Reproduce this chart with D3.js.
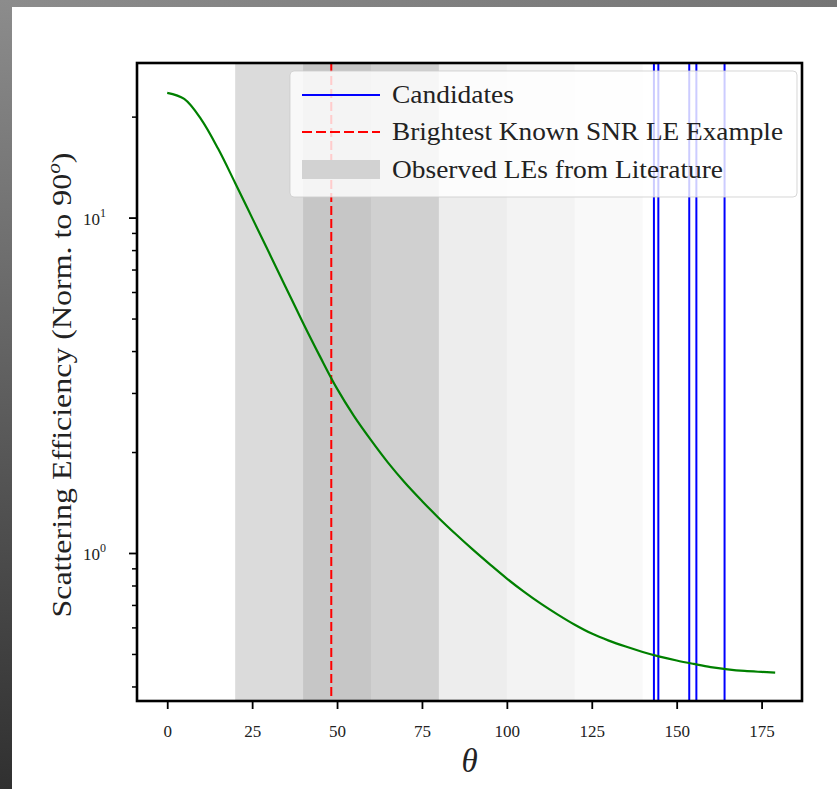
<!DOCTYPE html>
<html lang="en">
<head>
    <meta charset="UTF-8">
    <title>Scattering Efficiency</title>
    <style>
        body { margin: 0; background: #fff; }
        svg { display: block; }
        .tick text { font-family: "Liberation Serif", serif; fill: #222; }
        .lbl { font-family: "Liberation Serif", serif; fill: #222; }
    </style>
</head>
<body>
    <svg width="837" height="789"></svg>

    <script src="https://d3js.org/d3.v7.min.js"></script>
    <script>
        // scattering curve
        const thetaVals = [0, 5, 10, 15, 20, 25, 30, 35, 40, 45, 50, 55, 60, 65, 70, 75, 80, 85, 90,
            95, 100, 105, 110, 115, 120, 125, 130, 135, 140, 145, 150, 155, 160, 165, 170, 175, 179];
        const effVals = [23.55, 22.59, 19.63, 16.03, 12.68, 9.98, 7.85, 6.17, 4.85, 3.85, 3.09, 2.56, 2.17, 1.86, 1.62, 1.43, 1.27, 1.137, 1.023,
            0.925, 0.839, 0.767, 0.706, 0.655, 0.611, 0.575, 0.548, 0.526, 0.507, 0.491, 0.478, 0.467, 0.457, 0.450, 0.445, 0.442, 0.440];

        // candidate angles, brightest example, literature LE ranges
        const candidates = [143.3, 144.6, 153.7, 155.8, 164.1];
        const brightest = 48.3;
        const litSpans = [[20, 140], [20, 120], [20, 100], [20, 80], [20, 80], [20, 80],
            [40, 80], [40, 80], [40, 60], [40, 60]];

        const xTicks = [0, 25, 50, 75, 100, 125, 150, 175];
        const legendLabels = ["Candidates", "Brightest Known SNR LE Example", "Observed LEs from Literature"];

        const svg = d3.select("svg");
        const W = 837, H = 789;
        const pLeft = 137, pRight = 802, pTop = 63, pBottom = 701;

        // grey frame round the picture
        const defs = svg.append("defs");
        const gTop = defs.append("linearGradient").attr("id", "gtop");
        gTop.append("stop").attr("offset", "0%").attr("stop-color", "#8c8c8c");
        gTop.append("stop").attr("offset", "100%").attr("stop-color", "#757575");
        const gLeft = defs.append("linearGradient").attr("id", "gleft")
            .attr("x1", 0).attr("y1", 0).attr("x2", 0).attr("y2", 1);
        gLeft.append("stop").attr("offset", "0%").attr("stop-color", "#8c8c8c");
        gLeft.append("stop").attr("offset", "100%").attr("stop-color", "#303030");
        svg.append("rect").attr("width", W).attr("height", H).attr("fill", "#fff");
        svg.append("rect").attr("width", W).attr("height", 7).attr("fill", "url(#gtop)");
        svg.append("rect").attr("width", 12).attr("height", H).attr("fill", "url(#gleft)");

        const x = d3.scaleLinear().domain([-8.9, 186.9]).range([pLeft, pRight]);
        const y = d3.scaleLog().domain([0.362, 28.9]).range([pBottom, pTop]);

        const plot = svg.append("g");

        // literature spans
        plot.selectAll(".span")
            .data(litSpans)
            .enter().append("rect")
            .attr("x", d => x(d[0]))
            .attr("width", d => x(d[1]) - x(d[0]))
            .attr("y", pTop)
            .attr("height", pBottom - pTop)
            .attr("fill", "#000")
            .attr("fill-opacity", 0.025);

        // candidates
        plot.selectAll(".cand")
            .data(candidates)
            .enter().append("line")
            .attr("x1", d => x(d)).attr("x2", d => x(d))
            .attr("y1", pTop).attr("y2", pBottom)
            .attr("stroke", "#0000ff")
            .attr("stroke-width", 2);

        plot.append("line")
            .attr("x1", x(brightest)).attr("x2", x(brightest))
            .attr("y1", pTop).attr("y2", pBottom)
            .attr("stroke", "#ff0000")
            .attr("stroke-width", 2)
            .attr("stroke-dasharray", "9,4");

        const line = d3.line()
            .x((d, i) => x(thetaVals[i]))
            .y(d => y(d))
            .curve(d3.curveCatmullRom);

        plot.append("path")
            .datum(effVals)
            .attr("d", line)
            .attr("fill", "none")
            .attr("stroke", "#008000")
            .attr("stroke-width", 2.2);

        // x axis
        const xAxis = svg.append("g")
            .attr("transform", `translate(0,${pBottom})`)
            .call(d3.axisBottom(x).tickValues(xTicks).tickSize(8));
        xAxis.select(".domain").remove();
        xAxis.selectAll(".tick line").attr("stroke", "#000").attr("stroke-width", 1.8);
        xAxis.selectAll(".tick text").attr("font-size", 17).attr("y", 36).attr("dy", 0);

        // y axis, log: majors with labels, minors without
        const [y0, y1] = y.domain();
        const majors = [], minors = [];
        for (let e = Math.floor(Math.log10(y0)); e <= Math.ceil(Math.log10(y1)); e++) {
            for (let k = 1; k < 10; k++) {
                const v = k * Math.pow(10, e);
                if (v < y0 || v > y1) continue;
                (k === 1 ? majors : minors).push(v);
            }
        }
        const yMinor = svg.append("g")
            .attr("transform", `translate(${pLeft},0)`)
            .call(d3.axisLeft(y).tickValues(minors).tickSize(5).tickFormat(""));
        yMinor.select(".domain").remove();
        yMinor.selectAll(".tick line").attr("stroke", "#000").attr("stroke-width", 1.5);

        const yMajor = svg.append("g")
            .attr("transform", `translate(${pLeft},0)`)
            .call(d3.axisLeft(y).tickValues(majors).tickSize(8).tickFormat(""));
        yMajor.select(".domain").remove();
        yMajor.selectAll(".tick line").attr("stroke", "#000").attr("stroke-width", 1.8);
        yMajor.selectAll(".tick text")
            .attr("x", -31).attr("dy", 0).attr("y", 7)
            .attr("font-size", 17)
            .attr("text-anchor", "end")
            .each(function (d) {
                const t = d3.select(this);
                t.text("10");
                t.append("tspan").attr("dy", -8).attr("font-size", 12)
                    .text(Math.round(Math.log10(d)));
            });

        // frame
        svg.append("rect")
            .attr("x", pLeft).attr("y", pTop)
            .attr("width", pRight - pLeft).attr("height", pBottom - pTop)
            .attr("fill", "none")
            .attr("stroke", "#000")
            .attr("stroke-width", 2.6);

        // axis labels
        svg.append("text")
            .attr("class", "lbl")
            .attr("x", x(89)).attr("y", 772)
            .attr("text-anchor", "middle")
            .attr("font-size", 33)
            .attr("font-style", "italic")
            .text("θ");

        const yl = svg.append("text")
            .attr("class", "lbl")
            .attr("transform", "translate(71,385) rotate(-90)")
            .attr("text-anchor", "middle")
            .attr("font-size", 27)
            .attr("textLength", 465)
            .attr("lengthAdjust", "spacingAndGlyphs");
        yl.append("tspan").text("Scattering Efficiency (Norm. to 90");
        yl.append("tspan").attr("dy", -11).attr("font-size", 18).attr("font-style", "italic").text("o");
        yl.append("tspan").attr("dy", 11).text(")");

        // legend
        const lg = svg.append("g");
        lg.append("rect")
            .attr("x", 290).attr("y", 71)
            .attr("width", 507).attr("height", 126)
            .attr("rx", 4)
            .attr("fill", "#fff").attr("fill-opacity", 0.8)
            .attr("stroke", "#cccccc").attr("stroke-opacity", 0.8);
        const rows = [95, 132, 170];
        lg.append("line").attr("x1", 302).attr("x2", 380).attr("y1", rows[0]).attr("y2", rows[0])
            .attr("stroke", "#0000ff").attr("stroke-width", 2);
        lg.append("line").attr("x1", 302).attr("x2", 380).attr("y1", rows[1]).attr("y2", rows[1])
            .attr("stroke", "#ff0000").attr("stroke-width", 2).attr("stroke-dasharray", "10,4");
        lg.append("rect").attr("x", 302).attr("y", rows[2] - 10).attr("width", 78).attr("height", 19)
            .attr("fill", "#d2d2d2");
        const widths = [122, 391, 331];
        lg.selectAll(".lt")
            .data(legendLabels)
            .enter().append("text")
            .attr("class", "lbl")
            .attr("x", 392)
            .attr("y", (d, i) => rows[i] + 8)
            .attr("font-size", 25)
            .attr("textLength", (d, i) => widths[i])
            .attr("lengthAdjust", "spacingAndGlyphs")
            .text(d => d);
    </script>
</body>
</html>
